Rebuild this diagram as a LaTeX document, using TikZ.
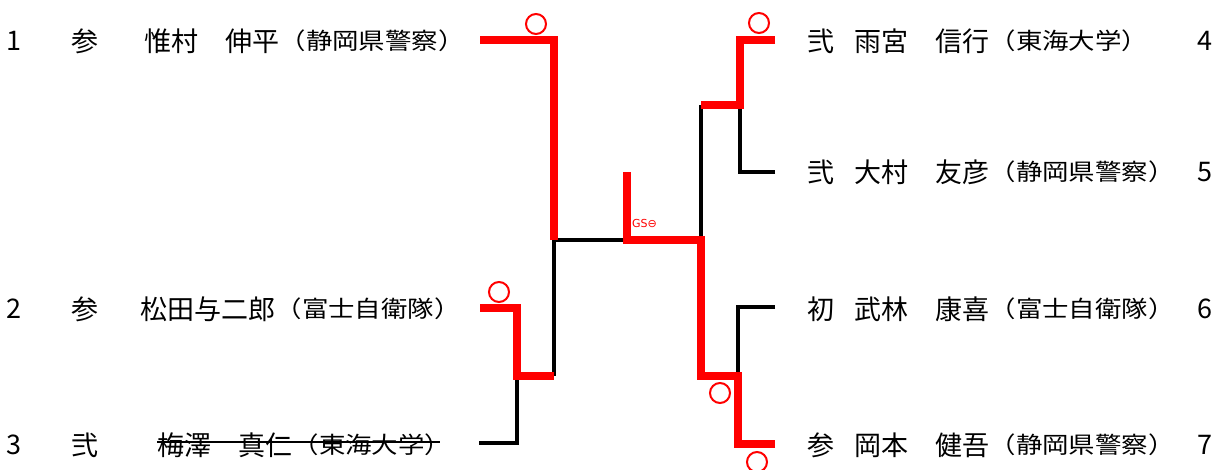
\documentclass[tikz,border=0pt]{standalone}
\usepackage{fontspec}
\newfontfamily\jpfont{Noto Sans CJK JP}
\newfontfamily\jpwidefont[FakeStretch=1.15]{Noto Sans CJK JP}
\newfontfamily\symfont{DejaVu Sans}
\definecolor{winred}{RGB}{255,0,0}

\tikzset{
  numtext/.style={inner sep=0pt, font=\jpfont\fontsize{27}{27}\selectfont},
  ranktext/.style={inner sep=0pt, font=\jpfont\fontsize{27}{27}\selectfont},
  playertext/.style={anchor=west, inner sep=0pt, font=\jpfont\fontsize{27}{27}\selectfont},
  clubtext/.style={anchor=west, inner sep=0pt, font=\jpwidefont\fontsize{23}{23}\selectfont},
  win/.style={draw=winred, line width=8pt},
  lose/.style={draw=black, line width=3.2pt},
  maru/.style={draw=winred, line width=2pt, circle, minimum size=20pt, inner sep=0pt},
}

\begin{document}
\begin{tikzpicture}[x=1pt,y=1pt,yscale=-1]
    \useasboundingbox (0,0) rectangle (1215,470);

    %Entry points and junctions
    \coordinate (e1) at (480,40);
    \coordinate (e2) at (480,308);
    \coordinate (e3) at (479,443);
    \coordinate (e4) at (775,40);
    \coordinate (e5) at (775,172);
    \coordinate (e6) at (775,307);
    \coordinate (e7) at (775,444);
    \coordinate (jA) at (517,376);
    \coordinate (jL) at (554,240);
    \coordinate (fin) at (627,240);
    \coordinate (top) at (627,172);
    \coordinate (jR) at (701,240);
    \coordinate (jB) at (740,105);
    \coordinate (jC) at (738,376);

    %Lost lines
    \draw [lose] (jL) -- (fin);
    \draw [lose] (jL) -- (jL |- jA);
    \draw [lose] (e3) -| (jA);
    \draw [lose] (jR) -- (jR |- jB);
    \draw [lose] (e5) -| (jB);
    \draw [lose] (e6) -| (jC);

    %Won lines
    \draw [win] (e1) -| (jL);
    \draw [win] (e2) -| (jA) -- (jA -| jL);
    \draw [win] (e4) -| (jB) -- (jB -| jR);
    \draw [win] (e7) -| (jC) -- (jC -| jR) -- (jR) -- (fin) -- (top);

    %Win marks
    \node [maru] (m1) at (536,24) {};
    \node [maru] (m2) at (499,292) {};
    \node [maru] (m4) at (759,23) {};
    \node [maru] (m7a) at (720,393) {};
    \node [maru] (m7b) at (757,462) {};

    % Text Node
    \node [anchor=west, inner sep=0pt, text=winred, font=\symfont\fontsize{11}{11}\selectfont] (gs) at (632,223) {GS⊖};

    % Left side
    \node [numtext] (n1) at (14,41) {1};
    \node [ranktext] (r1) at (85,41) {参};
    \node [playertext] (p1) at (144,41) {惟村　伸平};
    \node [clubtext] (c1) at (p1.east) {（静岡県警察）};

    \node [numtext] (n2) at (14,309) {2};
    \node [ranktext] (r2) at (85,309) {参};
    \node [playertext] (p2) at (140,309) {松田与二郎};
    \node [clubtext] (c2) at (p2.east) {（富士自衛隊）};

    \node [numtext] (n3) at (14,445) {3};
    \node [ranktext] (r3) at (85,445) {弐};
    \node [playertext] (p3) at (157,445) {梅澤　真仁};
    \node [clubtext] (c3) at (p3.east) {（東海大学）};
    \draw [line width=1.5pt] ([yshift=-3pt]p3.west) -- ([yshift=-3pt,xshift=-12pt]c3.east);

    % Right side
    \node [ranktext] (r4) at (821,41) {弐};
    \node [playertext] (p4) at (854,41) {雨宮　信行};
    \node [clubtext] (c4) at (p4.east) {（東海大学）};
    \node [numtext] (n4) at (1205,41) {4};

    \node [ranktext] (r5) at (821,172) {弐};
    \node [playertext] (p5) at (854,172) {大村　友彦};
    \node [clubtext] (c5) at (p5.east) {（静岡県警察）};
    \node [numtext] (n5) at (1205,172) {5};

    \node [ranktext] (r6) at (821,309) {初};
    \node [playertext] (p6) at (854,309) {武林　康喜};
    \node [clubtext] (c6) at (p6.east) {（富士自衛隊）};
    \node [numtext] (n6) at (1205,309) {6};

    \node [ranktext] (r7) at (821,445) {参};
    \node [playertext] (p7) at (854,445) {岡本　健吾};
    \node [clubtext] (c7) at (p7.east) {（静岡県警察）};
    \node [numtext] (n7) at (1205,445) {7};

\end{tikzpicture}
\end{document}
